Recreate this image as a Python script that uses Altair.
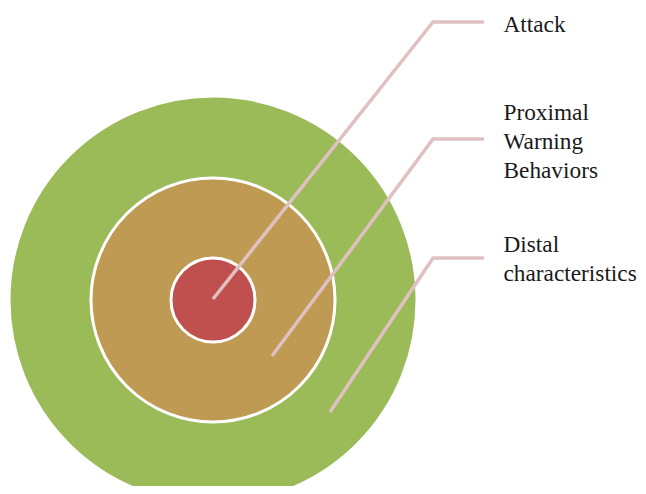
import altair as alt
import pandas as pd

# Rings (outer to inner)
ring_names = ["Distal characteristics", "Proximal Warning Behaviors", "Attack"]
ring_radius = [201, 122, 42]
ring_colors = ["#9BBB59", "#BE9A52", "#C0504D"]
ring_strokes = ["#9BBB59", "#FFFFFF", "#FFFFFF"]
center_x = [213, 213, 213]
center_y = [300, 300, 300]

# Leader lines: start (inside ring) -> elbow -> end
labels = ["Attack", "Proximal\nWarning\nBehaviors", "Distal\ncharacteristics"]
start_x = [213, 272, 330]
start_y = [299, 356, 412]
elbow_x = [433, 433, 433]
elbow_y = [22, 139, 258]
end_x = [484, 484, 484]
text_x = [503.5, 503.5, 503.5]
text_y = [32, 120, 252]

rings = pd.DataFrame({
    "name": ring_names, "r": ring_radius, "fill": ring_colors,
    "stroke": ring_strokes, "x": center_x, "y": center_y, "order": [0, 1, 2],
})
rows = []
for i, lab in enumerate(labels):
    rows.append({"id": i, "k": 0, "x": start_x[i], "y": start_y[i]})
    rows.append({"id": i, "k": 1, "x": elbow_x[i], "y": elbow_y[i]})
    rows.append({"id": i, "k": 2, "x": end_x[i], "y": elbow_y[i]})
lines = pd.DataFrame(rows)
texts = pd.DataFrame({"label": labels, "x": text_x, "y": text_y})

xs = alt.Scale(domain=[8, 638], nice=False, zero=False)
ys = alt.Scale(domain=[486, 8], nice=False, zero=False)
X = lambda: alt.X("x:Q", scale=xs, axis=None)
Y = lambda: alt.Y("y:Q", scale=ys, axis=None)

circles = alt.Chart(rings).transform_calculate(
    size="pow(2*datum.r, 2)"
).mark_point(shape="circle", filled=True, opacity=1, strokeWidth=3).encode(
    x=X(), y=Y(),
    size=alt.Size("size:Q", scale=None, legend=None),
    fill=alt.Fill("fill:N", scale=None, legend=None),
    stroke=alt.Stroke("stroke:N", scale=None, legend=None),
    order=alt.Order("order:Q"),
)

leaders = alt.Chart(lines).mark_line(color="#E0C1C1", strokeWidth=3.5, strokeCap="butt").encode(
    x=X(), y=Y(), detail="id:N", order="k:Q"
)

txt = alt.Chart(texts).mark_text(
    align="left", baseline="alphabetic", font="Liberation Serif",
    fontSize=23.3, lineBreak="\n", lineHeight=29, color="#1a1a1a"
).encode(x=X(), y=Y(), text="label:N")

chart = alt.layer(circles, leaders, txt).properties(
    width=630, height=478, padding=0, autosize="none"
).configure_view(stroke=None)

chart.save("out.html", embed_options={"renderer": "svg", "actions": False})
